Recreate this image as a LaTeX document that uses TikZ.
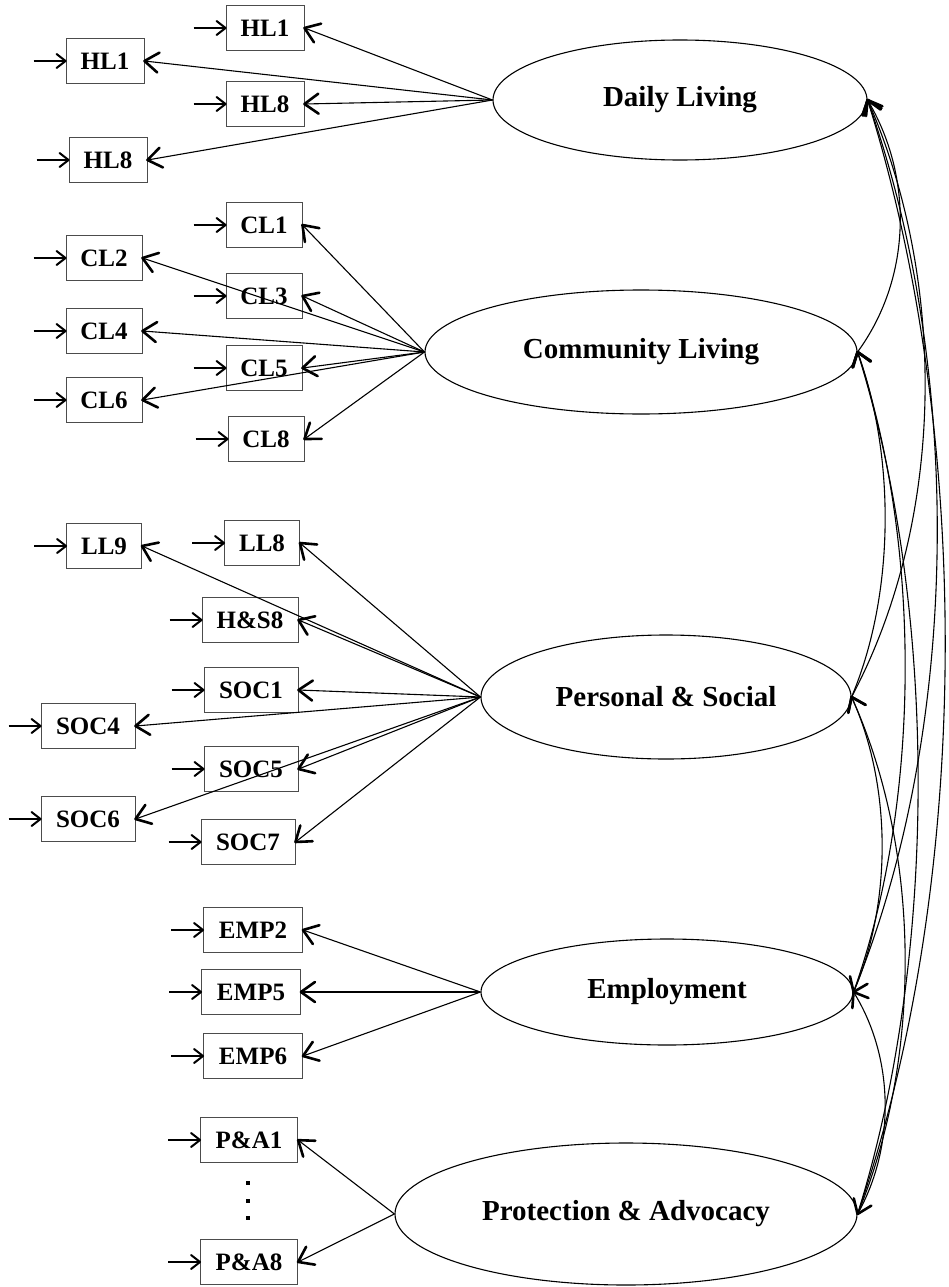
\documentclass[tikz,border=0pt]{standalone}
\usepackage{fontspec}
\setmainfont{Liberation Serif}
\usetikzlibrary{shapes.geometric,calc,decorations.markings}
\tikzset{
  headpen/.style={line width=2.6pt, line cap=round, line join=round},
  errpen/.style={line width=2pt, line cap=round, line join=round},
  obs/.style={draw=black!70, line width=0.9pt, rectangle, minimum height=45pt, inner sep=0pt,
    font=\fontsize{25}{30}\selectfont\bfseries},
  lat/.style={draw, line width=1.1pt, ellipse, inner sep=0pt,
    font=\fontsize{29}{34}\selectfont\bfseries},
  load/.style={line width=1.1pt, postaction={decorate, decoration={markings,
    mark=at position 1 with {\draw[headpen] (-14pt,10pt) -- (0pt,0pt) -- (-14pt,-10pt);}}}},
  err/.style={line width=1.1pt, postaction={decorate, decoration={markings,
    mark=at position 1 with {\draw[errpen] (-9pt,7pt) -- (0pt,0pt) -- (-9pt,-7pt);}}}},
  cov/.style={line width=1.1pt, postaction={decorate, decoration={markings,
    mark=at position 0 with {\draw[headpen] (13pt,9.5pt) -- (0pt,0pt) -- (13pt,-9.5pt);},
    mark=at position 1 with {\draw[headpen] (-13pt,9.5pt) -- (0pt,0pt) -- (-13pt,-9.5pt);}}}},
  dotmark/.style={fill, rectangle, minimum size=4pt, inner sep=0pt}
}
\begin{document}
\begin{tikzpicture}[x=1pt,y=-1pt]
\useasboundingbox (0,0) rectangle (949,1287);
% latent factors
\node[lat, minimum width=374pt, minimum height=120pt] (DL) at (680,100) {Daily Living};
\node[lat, minimum width=432pt, minimum height=124pt] (CL) at (641,352) {Community Living};
\node[lat, minimum width=370pt, minimum height=124pt] (PS) at (666,697) {Personal \& Social};
\node[lat, minimum width=372pt, minimum height=106pt] (EMP) at (667,992) {Employment};
\node[lat, minimum width=462pt, minimum height=142pt] (PA) at (626,1214) {Protection \& Advocacy};
% observed
\node[obs, minimum width=78pt] (HLa) at (265,28) {HL1};
\node[obs, minimum width=78pt] (HLb) at (105,61) {HL1};
\node[obs, minimum width=78pt] (HLc) at (265,104) {HL8};
\node[obs, minimum width=78pt] (HLd) at (108,160) {HL8};
\node[obs, minimum width=76pt] (CL1) at (264,225) {CL1};
\node[obs, minimum width=76pt] (CL2) at (104,258) {CL2};
\node[obs, minimum width=76pt] (CL3) at (264,296) {CL3};
\node[obs, minimum width=76pt] (CL4) at (104,331) {CL4};
\node[obs, minimum width=76pt] (CL5) at (264,368) {CL5};
\node[obs, minimum width=76pt] (CL6) at (104,400) {CL6};
\node[obs, minimum width=76pt] (CL8) at (266,439) {CL8};
\node[obs, minimum width=75pt] (LL9) at (104,546) {LL9};
\node[obs, minimum width=75pt] (LL8) at (262,543) {LL8};
\node[obs, minimum width=96pt] (HS8) at (250,620) {H\&S8};
\node[obs, minimum width=94pt] (SOC1) at (251,690) {SOC1};
\node[obs, minimum width=94pt] (SOC4) at (88,726) {SOC4};
\node[obs, minimum width=94pt] (SOC5) at (251,769) {SOC5};
\node[obs, minimum width=94pt] (SOC6) at (88,819) {SOC6};
\node[obs, minimum width=94pt] (SOC7) at (248,842) {SOC7};
\node[obs, minimum width=99pt] (EMP2) at (253,930) {EMP2};
\node[obs, minimum width=99pt] (EMP5) at (251,992) {EMP5};
\node[obs, minimum width=99pt] (EMP6) at (253,1056) {EMP6};
\node[obs, minimum width=97pt] (PA1) at (249,1140) {P\&A1};
\node[obs, minimum width=97pt] (PA8) at (249,1262) {P\&A8};
% dots
\node[dotmark] (dA) at (248,1183) {};
\node[dotmark] (dB) at (248,1201) {};
\node[dotmark] (dC) at (248,1218) {};
% error arrows
\foreach \n in {HLa,HLb,HLc,HLd,CL1,CL2,CL3,CL4,CL5,CL6,CL8,LL9,LL8,HS8,SOC1,SOC4,SOC5,SOC6,SOC7,EMP2,EMP5,EMP6,PA1,PA8}{
  \coordinate (e\n) at ($(\n.west)+(-32,0)$);
  \draw[err] (e\n) -- (\n.west);
}
% loadings
\foreach \n in {HLa,HLb,HLc,HLd}{\draw[load] (DL.west) -- (\n.east);}
\foreach \n in {CL1,CL2,CL3,CL4,CL5,CL6,CL8}{\draw[load] (CL.west) -- (\n.east);}
\foreach \n in {LL9,LL8,HS8,SOC1,SOC4,SOC5,SOC6,SOC7}{\draw[load] (PS.west) -- (\n.east);}
\foreach \n in {EMP2,EMP5,EMP6}{\draw[load] (EMP.west) -- (\n.east);}
\foreach \n in {PA1,PA8}{\draw[load] (PA.west) -- (\n.east);}
% covariances
\draw[cov] (DL.east) .. controls (912.7,175.6) and (912.7,276.4) .. (CL.east);
\draw[cov] (DL.east) .. controls (946.8,279.1) and (946.8,517.9) .. (PS.east);
\draw[cov] (DL.east) .. controls (962.7,367.6) and (962.7,724.4) .. (EMP.east);
\draw[cov] (DL.east) .. controls (972.7,434.2) and (972.7,879.8) .. (PA.east);
\draw[cov] (CL.east) .. controls (895.3,455.5) and (895.3,593.5) .. (PS.east);
\draw[cov] (CL.east) .. controls (921.7,544) and (921.7,800) .. (EMP.east);
\draw[cov] (CL.east) .. controls (938.3,610.6) and (938.3,955.4) .. (PA.east);
\draw[cov] (PS.east) .. controls (892,785.5) and (892,903.5) .. (EMP.east);
\draw[cov] (PS.east) .. controls (922,852.1) and (922,1058.9) .. (PA.east);
\draw[cov] (EMP.east) .. controls (895,1058.6) and (895,1147.4) .. (PA.east);
\end{tikzpicture}
\end{document}
